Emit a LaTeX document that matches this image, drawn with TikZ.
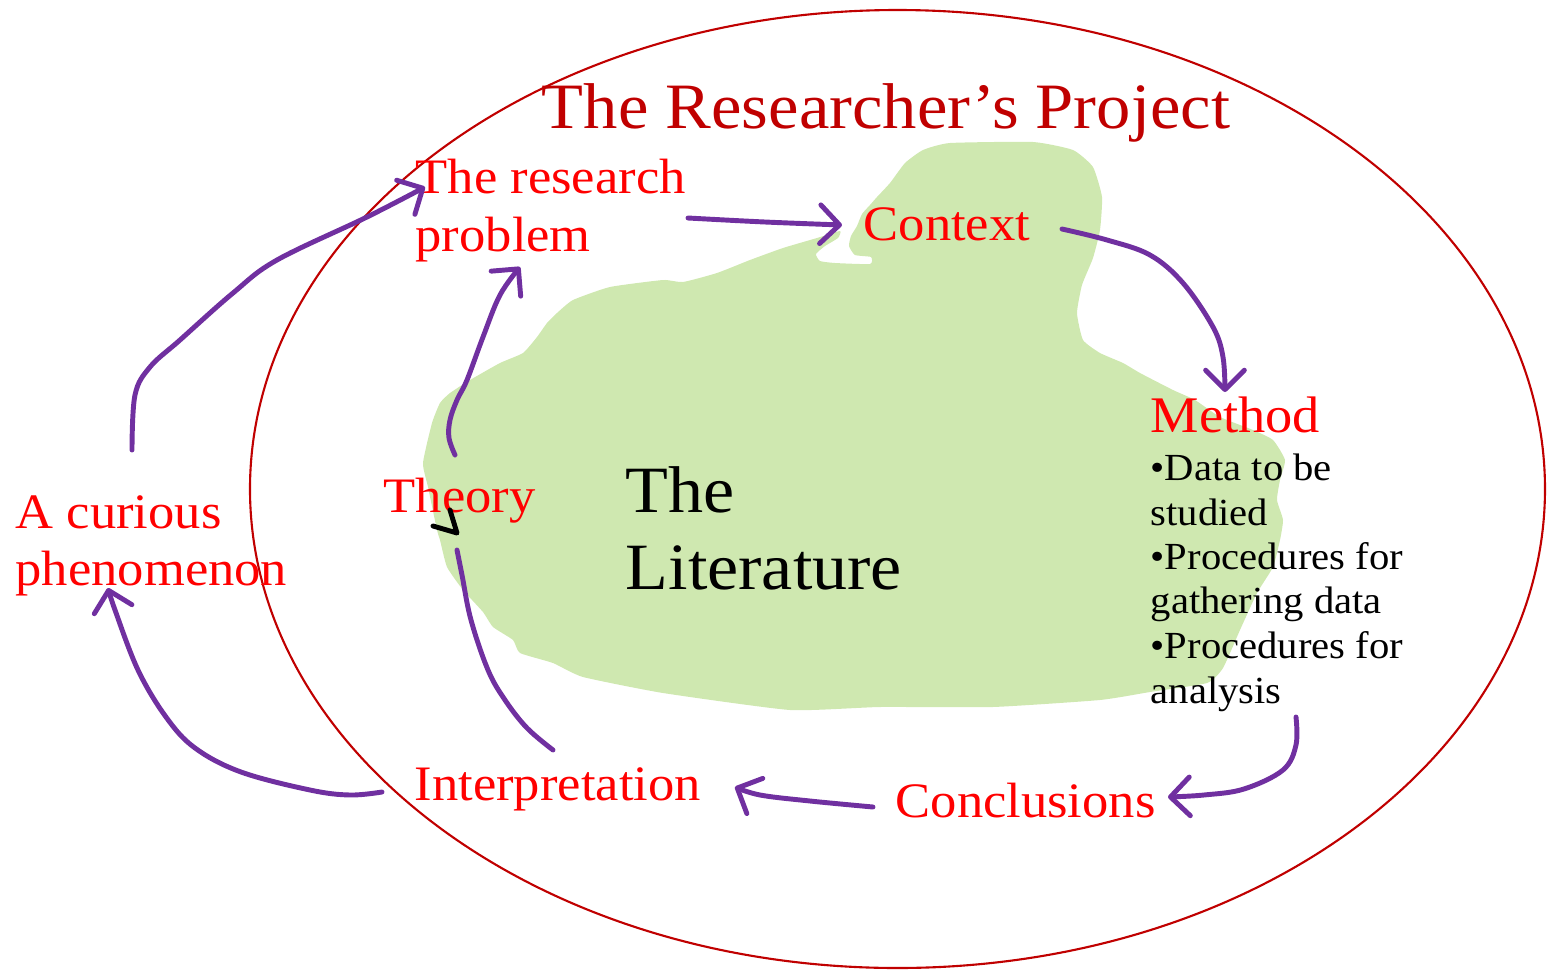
\documentclass[tikz,border=0pt]{standalone}
\usepackage{fontspec}
\setmainfont{Liberation Serif}[FakeStretch=1.06]
\usetikzlibrary{arrows.meta}
\definecolor{purp}{RGB}{112,48,160}
\definecolor{dred}{RGB}{192,0,0}
\definecolor{blob}{RGB}{207,232,176}
\definecolor{lab}{RGB}{255,0,0}
\tikzset{
  conn/.style={draw=purp, line width=1.4pt, line cap=round},
  arr/.style={conn, -{Straight Barb[length=5.5pt,width=11pt,round]}},
  redlab/.style={anchor=base west, inner sep=0pt, text=lab, font=\fontsize{14.1pt}{16pt}\selectfont},
  bul/.style={anchor=base west, inner sep=0pt, text=black, font=\fontsize{10.9pt}{12pt}\selectfont},
  big/.style={anchor=base west, inner sep=0pt, text=black, font=\fontsize{18.8pt}{21pt}\selectfont},
}
\begin{document}
\begin{tikzpicture}[x=0.01cm,y=-0.01cm]
\useasboundingbox (0,0) rectangle (1547,972);
% outer ellipse
\draw[dred, line width=0.6pt] (897.5,489) ellipse [x radius=647.5, y radius=479];
% literature blob
\fill[blob] plot[smooth cycle, tension=0.3] coordinates {
 (817,238) (840,231) (838,238) (825,246) (816,254) (820,261) (835,263) (870,264) (871,257)
 (855,255) (849,246) (851,236) (857,226) (862,214) (870,205) (877,197) (890,183) (905,163)
 (923,150) (950,143) (1033,142) (1073,150) (1093,167) (1102,197) (1100,230) (1093,258)
 (1082,285) (1077,313) (1083,340) (1100,353) (1123,363) (1140,373) (1173,390) (1195,400)
 (1220,417) (1253,430) (1273,440) (1285,460) (1280,480) (1277,500) (1283,520) (1280,540)
 (1273,567) (1257,593) (1240,630) (1223,668) (1207,683) (1150,692) (1100,700) (993,707)
 (880,707) (790,710) (663,693) (583,677) (553,663) (520,653) (513,640) (493,627) (483,612)
 (463,590) (447,567) (440,540) (437,530) (428,487) (423,463) (432,423) (440,403) (450,393)
 (470,380) (500,363) (523,353) (537,337) (547,323) (557,313) (573,300) (610,287) (663,280)
 (683,282) (717,273) (750,260) (783,248)};
% texts
\node[anchor=base, inner sep=0pt, text=dred, font=\fontsize{18.4pt}{21pt}\selectfont] (title) at (886,128) {The Researcher’s Project};
\node[redlab] (rp1) at (415,193) {The research};
\node[redlab] (rp2) at (415,251) {problem};
\node[redlab] (ctx) at (863,240) {Context};
\node[anchor=base west, inner sep=0pt, text=lab, font=\fontsize{14.6pt}{16pt}\selectfont] (meth) at (1150,432) {Method};
\node[bul] (b1) at (1150,480) {•Data to be};
\node[bul] (b2) at (1150,525) {studied};
\node[bul] (b3) at (1150,569) {•Procedures for};
\node[bul] (b4) at (1150,613) {gathering data};
\node[bul] (b5) at (1150,658) {•Procedures for};
\node[bul] (b6) at (1150,703) {analysis};
\node[redlab] (theo) at (383,512) {Theory};
\node[big] (lit1) at (625,512) {The};
\node[big] (lit2) at (625,589) {Literature};
\node[redlab] (cur1) at (15,528) {A curious};
\node[redlab] (cur2) at (15,585) {phenomenon};
\node[redlab] (interp) at (414,800) {Interpretation};
\node[redlab] (concl) at (895,817) {Conclusions};
% connector end points
\coordinate (curTop) at (132,450);
\coordinate (rpIn) at (425,187);
\coordinate (theoTop) at (455,455);
\coordinate (rpBot) at (520,267);
\coordinate (rpOut) at (688,218);
\coordinate (ctxIn) at (842,225);
\coordinate (ctxOut) at (1062,229);
\coordinate (methIn) at (1225,392);
\coordinate (methOut) at (1296,717);
\coordinate (conIn) at (1168,797);
\coordinate (conOut) at (873,807);
\coordinate (intIn) at (735,787);
\coordinate (intOut) at (382,792);
\coordinate (curIn) at (108,588);
\coordinate (intTop) at (553,750);
\coordinate (theoBot) at (457,550);
% connectors
\draw[arr] plot[smooth, tension=0.6] coordinates {(curTop) (135,395) (150,367) (180,340) (233,293) (277,260) (367,217) (rpIn)};
\draw[arr] plot[smooth, tension=0.6] coordinates {(theoTop) (449,438) (450,420) (457,400) (467,380) (483,337) (500,295) (rpBot)};
\draw[arr] plot[smooth, tension=0.6] coordinates {(rpOut) (765,222) (ctxIn)};
\draw[arr] plot[smooth, tension=0.6] coordinates {(ctxOut) (1107,240) (1150,255) (1183,283) (1213,327) (1223,357) (methIn)};
\draw[arr] plot[smooth, tension=0.6] coordinates {(methOut) (1296,745) (1283,770) (1244,789) (1204,795) (conIn)};
\draw[arr] plot[smooth, tension=0.6] coordinates {(conOut) (810,801) (760,795) (intIn)};
\draw[arr] plot[smooth, tension=0.6] coordinates {(intOut) (350,795) (310,790) (241,772) (195,748) (166,717) (138,670) (115,610) (curIn)};
\draw[conn] plot[smooth, tension=0.6] coordinates {(intTop) (527,728) (505,700) (488,670) (471,620) (462,575) (theoBot)};
% black chevron near Theory
\coordinate (chevA) at (433,526);
\coordinate (chevV) at (457,533);
\coordinate (chevB) at (450,510);
\draw[black, line width=1.4pt, line cap=round, line join=round] (chevA) -- (chevV) -- (chevB);
\end{tikzpicture}
\end{document}
